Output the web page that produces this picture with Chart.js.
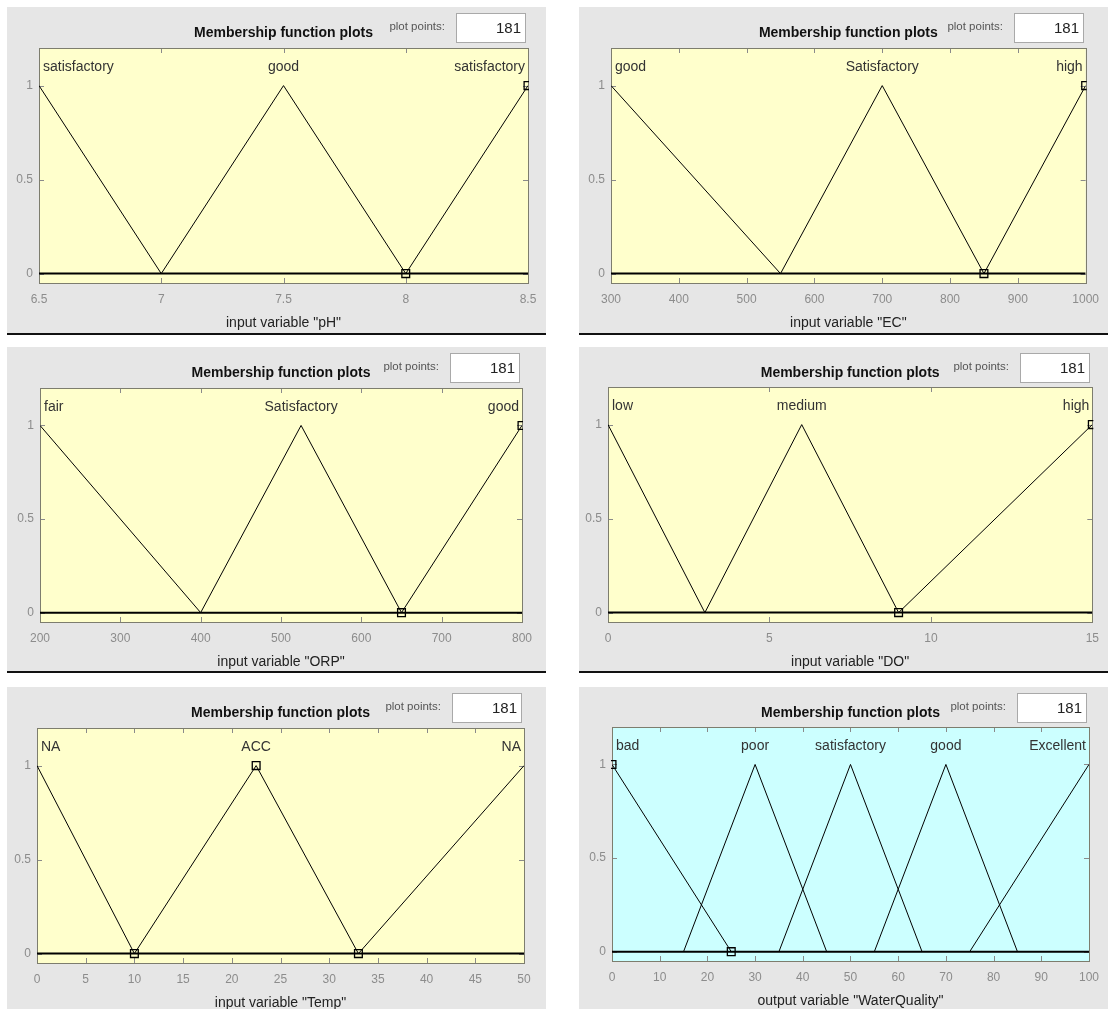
<!DOCTYPE html>
<html>
<head>
<meta charset="utf-8">
<title>Membership function plots</title>
<script src="https://cdn.jsdelivr.net/npm/chart.js@4.4.1/dist/chart.umd.min.js"></script>
<style>
  html, body { margin: 0; padding: 0; background: #ffffff; width: 1108px; height: 1009px; overflow: hidden; }
  .panel { position: absolute; background: #e6e6e6; border-bottom: 2px solid #111111; }
  .panel canvas { display: block; }
</style>
</head>
<body>
<div class="panel" id="pH"><canvas></canvas></div>
<div class="panel" id="EC"><canvas></canvas></div>
<div class="panel" id="ORP"><canvas></canvas></div>
<div class="panel" id="DO"><canvas></canvas></div>
<div class="panel" id="Temp"><canvas></canvas></div>
<div class="panel" id="WaterQuality"><canvas></canvas></div>
<script>
// ---- fuzzy variables: tick values, membership function names and vertices ----
const memberTicks = [0, 0.5, 1];
const plotPoints = 181;

const phTicks = [6.5, 7, 7.5, 8, 8.5];
const phNames = ['satisfactory', 'good', 'satisfactory'];
const phShapes = [
  [[6.5, 1], [7, 0]],
  [[7, 0], [7.5, 1], [8, 0]],
  [[8, 0], [8.5, 1]]
];
const phHandles = [[8, 0], [8.5, 1]];

const ecTicks = [300, 400, 500, 600, 700, 800, 900, 1000];
const ecNames = ['good', 'Satisfactory', 'high'];
const ecShapes = [
  [[300, 1], [550, 0]],
  [[550, 0], [700, 1], [850, 0]],
  [[850, 0], [1000, 1]]
];
const ecHandles = [[850, 0], [1000, 1]];

const orpTicks = [200, 300, 400, 500, 600, 700, 800];
const orpNames = ['fair', 'Satisfactory', 'good'];
const orpShapes = [
  [[200, 1], [400, 0]],
  [[400, 0], [525, 1], [650, 0]],
  [[650, 0], [800, 1]]
];
const orpHandles = [[650, 0], [800, 1]];

const doTicks = [0, 5, 10, 15];
const doNames = ['low', 'medium', 'high'];
const doShapes = [
  [[0, 1], [3, 0]],
  [[3, 0], [6, 1], [9, 0]],
  [[9, 0], [15, 1]]
];
const doHandles = [[9, 0], [15, 1]];

const tempTicks = [0, 5, 10, 15, 20, 25, 30, 35, 40, 45, 50];
const tempNames = ['NA', 'ACC', 'NA'];
const tempShapes = [
  [[0, 1], [10, 0]],
  [[10, 0], [22.5, 1], [33, 0]],
  [[33, 0], [50, 1]]
];
const tempHandles = [[10, 0], [22.5, 1], [33, 0]];

const wqTicks = [0, 10, 20, 30, 40, 50, 60, 70, 80, 90, 100];
const wqNames = ['bad', 'poor', 'satisfactory', 'good', 'Excellent'];
const wqShapes = [
  [[0, 1], [25, 0]],
  [[15, 0], [30, 1], [45, 0]],
  [[35, 0], [50, 1], [65, 0]],
  [[55, 0], [70, 1], [85, 0]],
  [[75, 0], [100, 1]]
];
const wqHandles = [[0, 1], [25, 0]];

// ---- which variable goes in which panel ----
const variables = [
  { id: 'pH', kind: 'input', ticks: phTicks, names: phNames, shapes: phShapes, handles: phHandles, fill: '#ffffcc' },
  { id: 'EC', kind: 'input', ticks: ecTicks, names: ecNames, shapes: ecShapes, handles: ecHandles, fill: '#ffffcc' },
  { id: 'ORP', kind: 'input', ticks: orpTicks, names: orpNames, shapes: orpShapes, handles: orpHandles, fill: '#ffffcc' },
  { id: 'DO', kind: 'input', ticks: doTicks, names: doNames, shapes: doShapes, handles: doHandles, fill: '#ffffcc' },
  { id: 'Temp', kind: 'input', ticks: tempTicks, names: tempNames, shapes: tempShapes, handles: tempHandles, fill: '#ffffcc' },
  { id: 'WaterQuality', kind: 'output', ticks: wqTicks, names: wqNames, shapes: wqShapes, handles: wqHandles, fill: '#ccffff' }
];

// ---- panel geometry: box on the page and the axes margins inside it ----
const frames = {
  pH:           { left: 7,   top: 7,   w: 539, h: 326, axes: { left: 32, top: 41, right: 18, bottom: 50 } },
  EC:           { left: 579, top: 7,   w: 529, h: 326, axes: { left: 32, top: 41, right: 16, bottom: 50 } },
  ORP:          { left: 7,   top: 347, w: 539, h: 324, axes: { left: 33, top: 41, right: 24, bottom: 49 } },
  DO:           { left: 579, top: 347, w: 529, h: 324, axes: { left: 29, top: 40, right: 12, bottom: 49 } },
  Temp:         { left: 7,   top: 687, w: 539, h: 322, axes: { left: 30, top: 41, right: 22, bottom: 46 } },
  WaterQuality: { left: 579, top: 687, w: 529, h: 322, axes: { left: 33, top: 40, right: 14, bottom: 48 } }
};

const FONT = "'Liberation Sans', Arial, Helvetica, sans-serif";

function makeDecor(v) {
  return {
    id: 'mfDecor',
    beforeDraw(chart) {
      const { ctx, chartArea: a } = chart;
      ctx.save();
      ctx.fillStyle = v.fill;
      ctx.fillRect(a.left, a.top, a.right - a.left, a.bottom - a.top);
      ctx.restore();
    },
    beforeDatasetsDraw(chart) {
      const { ctx, chartArea: a, scales } = chart;
      ctx.save();
      ctx.strokeStyle = '#8a8a8a';
      ctx.lineWidth = 1;
      ctx.beginPath();
      v.ticks.forEach(t => {
        const x = Math.round(scales.x.getPixelForValue(t)) + 0.5;
        ctx.moveTo(x, a.bottom); ctx.lineTo(x, a.bottom - 5);
        ctx.moveTo(x, a.top); ctx.lineTo(x, a.top + 5);
      });
      memberTicks.forEach(t => {
        const y = Math.round(scales.y.getPixelForValue(t)) + 0.5;
        ctx.moveTo(a.left, y); ctx.lineTo(a.left + 5, y);
        ctx.moveTo(a.right, y); ctx.lineTo(a.right - 5, y);
      });
      ctx.stroke();
      ctx.strokeStyle = '#7d7d6e';
      ctx.strokeRect(Math.round(a.left) + 0.5, Math.round(a.top) + 0.5,
        Math.round(a.right - a.left), Math.round(a.bottom - a.top));
      ctx.restore();
    },
    afterDraw(chart) {
      const { ctx, chartArea: a, scales } = chart;
      const cx = (a.left + a.right) / 2;
      ctx.save();
      ctx.textBaseline = 'middle';

      // heading
      ctx.fillStyle = '#111';
      ctx.font = 'bold 14px ' + FONT;
      ctx.textAlign = 'center';
      ctx.fillText('Membership function plots', cx, 26);

      // plot points box
      const bx = Math.round(a.right) - 72, by = 6, bw = 70, bh = 30;
      ctx.fillStyle = '#ffffff';
      ctx.fillRect(bx, by, bw, bh);
      ctx.strokeStyle = '#a9a9a9';
      ctx.strokeRect(bx + 0.5, by + 0.5, bw - 1, bh - 1);
      ctx.fillStyle = '#222';
      ctx.font = '15px ' + FONT;
      ctx.textAlign = 'right';
      ctx.fillText(String(plotPoints), bx + bw - 5, by + bh / 2 + 1);
      ctx.fillStyle = '#555';
      ctx.font = '11.5px ' + FONT;
      ctx.fillText('plot points:', bx - 11, 20);

      // membership function names above each peak
      ctx.fillStyle = '#333';
      ctx.font = '14px ' + FONT;
      ctx.textAlign = 'left';
      const ly = scales.y.getPixelForValue(1.1);
      v.shapes.forEach((s, i) => {
        const peak = s.find(p => p[1] === 1)[0];
        const label = v.names[i];
        const w = ctx.measureText(label).width;
        let x0 = scales.x.getPixelForValue(peak) - w / 2;
        x0 = Math.max(a.left + 4, Math.min(a.right - 3 - w, x0));
        ctx.fillText(label, x0, ly);
      });

      // axis caption
      ctx.fillStyle = '#222';
      ctx.font = '14px ' + FONT;
      ctx.textAlign = 'center';
      ctx.fillText(v.kind + ' variable "' + v.id + '"', cx, a.bottom + 40);
      ctx.restore();
    }
  };
}

variables.forEach(v => {
  const f = frames[v.id];
  const box = document.getElementById(v.id);
  box.style.left = f.left + 'px';
  box.style.top = f.top + 'px';
  box.style.width = f.w + 'px';
  box.style.height = f.h + 'px';
  const canvas = box.querySelector('canvas');
  canvas.width = f.w;
  canvas.height = f.h;
  canvas.style.width = f.w + 'px';
  canvas.style.height = f.h + 'px';

  const xMin = v.ticks[0];
  const xMax = v.ticks[v.ticks.length - 1];
  const toPts = arr => arr.map(([x, y]) => ({ x, y }));

  const datasets = v.shapes.map(s => ({
    data: toPts(s), showLine: true, borderColor: '#000', borderWidth: 1,
    pointRadius: 0, tension: 0
  }));
  datasets.push({
    data: toPts([[xMin, 0], [xMax, 0]]), showLine: true, borderColor: '#000',
    borderWidth: 2, pointRadius: 0
  });
  datasets.push({
    data: toPts(v.handles), showLine: false, pointStyle: 'rect', pointRadius: 5.5,
    borderColor: '#000', backgroundColor: 'rgba(255,255,255,0)', borderWidth: 1.3, clip: 1
  });

  const tickFont = { family: FONT, size: 12 };
  new Chart(canvas, {
    type: 'scatter',
    data: { datasets },
    options: {
      responsive: false,
      animation: false,
      devicePixelRatio: 1,
      events: [],
      layout: { padding: { top: f.axes.top, right: f.axes.right, left: 0, bottom: 0 } },
      plugins: { legend: { display: false }, tooltip: { enabled: false }, title: { display: false } },
      scales: {
        x: {
          type: 'linear', min: xMin, max: xMax,
          grid: { display: false, drawTicks: false }, border: { display: false },
          afterBuildTicks: s => { s.ticks = v.ticks.map(t => ({ value: t })); },
          afterFit: s => { s.height = f.axes.bottom; },
          ticks: { autoSkip: false, maxRotation: 0, padding: 9, color: '#8c8c8c', font: tickFont,
                   callback: val => String(val) }
        },
        y: {
          type: 'linear', min: -0.05, max: 1.2,
          grid: { display: false, drawTicks: false }, border: { display: false },
          afterBuildTicks: s => { s.ticks = memberTicks.map(t => ({ value: t })); },
          afterFit: s => { s.width = f.axes.left; },
          ticks: { padding: 6, color: '#8c8c8c', font: tickFont, callback: val => String(val) }
        }
      }
    },
    plugins: [makeDecor(v)]
  });
});
</script>
</body>
</html>
